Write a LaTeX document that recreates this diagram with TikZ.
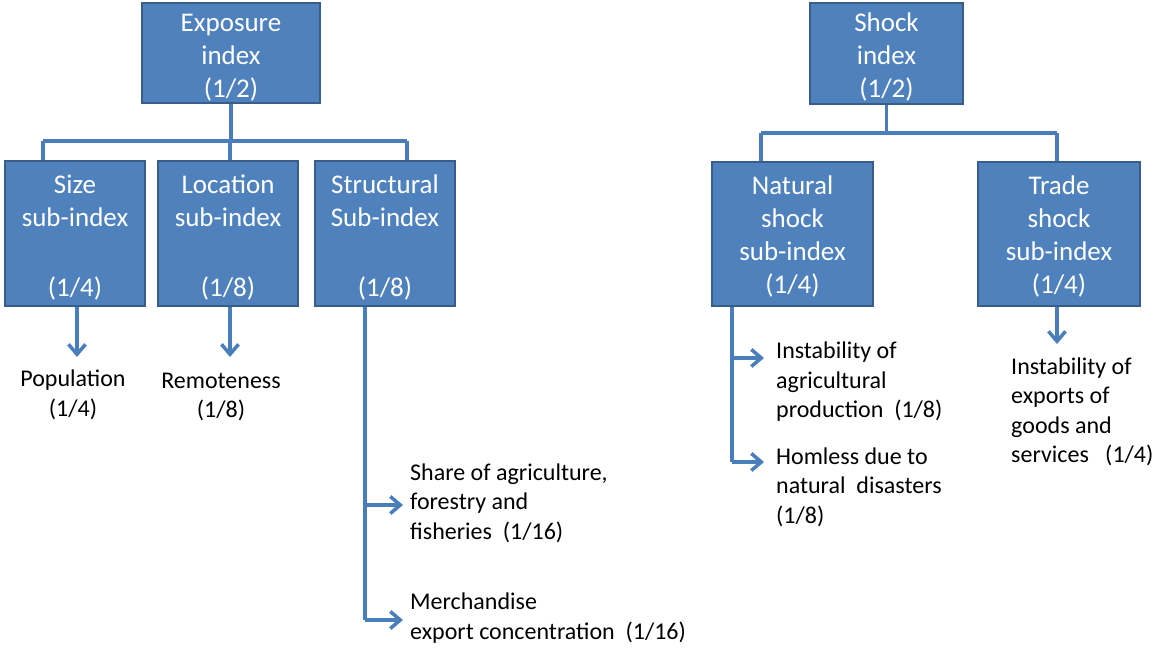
\documentclass[tikz,border=0pt]{standalone}
\usepackage{fontspec}
\setmainfont{Carlito}
\usetikzlibrary{arrows.meta}
\definecolor{boxfill}{HTML}{4F81BD}
\definecolor{boxline}{HTML}{385D8A}
\definecolor{conncol}{HTML}{4A7EBB}
\newcommand{\tstr}[1]{\rule{0pt}{#1pt}}
\tikzset{
  box/.style={draw=boxline, line width=2.5pt, fill=boxfill, text=white, align=center,
    font=\fontsize{27}{33}\selectfont, inner sep=0pt, anchor=center},
  conn/.style={draw=conncol, line width=3.5pt},
  arr/.style={conn, -{Straight Barb[length=10pt,width=17pt,line width=3.5pt]}},
  lbl/.style={font=\fontsize{24}{29.5}\selectfont, inner sep=0pt, text=black},
}
\begin{document}
\begin{tikzpicture}[x=1pt,y=-1pt]
\useasboundingbox (0,0) rectangle (1155,648);
% top boxes
\node[box, minimum width=178pt, minimum height=100pt] (exp) at (231,53) {\tstr{27.5}Exposure\\index\\(1/2)};
\node[box, minimum width=153pt, minimum height=101pt] (shock) at (886.5,53.5) {\tstr{25}Shock\\index\\(1/2)};
% sub boxes
\node[box, minimum width=140pt, minimum height=145pt] (size) at (75,233.5) {\tstr{27}Size\\sub-index\\[37pt](1/4)};
\node[box, minimum width=140pt, minimum height=145pt] (loc) at (228,233.5) {\tstr{27}Location\\sub-index\\[37pt](1/8)};
\node[box, minimum width=140pt, minimum height=145pt] (struct) at (385,233.5) {\tstr{27}Structural\\Sub-index\\[37pt](1/8)};
\node[box, minimum width=161pt, minimum height=144pt] (nat) at (792.5,234) {\tstr{23}Natural\\shock\\sub-index\\(1/4)};
\node[box, minimum width=162pt, minimum height=144pt] (trade) at (1059,234) {\tstr{23}Trade\\shock\\sub-index\\(1/4)};
% bar coordinates
\coordinate (eb1) at (43,141);
\coordinate (eb2) at (230,141);
\coordinate (eb3) at (407,141);
\coordinate (sb1) at (761,133);
\coordinate (sb2) at (1057,133);
\draw[conn] (exp.south) -- (exp.south |- eb1);
\draw[conn] (eb1) -- (eb3);
\draw[conn] (eb1) -- (eb1 |- size.north);
\draw[conn] (eb2) -- (eb2 |- loc.north);
\draw[conn] (eb3) -- (eb3 |- struct.north);
\draw[conn] (shock.south) -- (shock.south |- sb1);
\draw[conn] (sb1) -- (sb2);
\draw[conn] (sb1) -- (sb1 |- nat.north);
\draw[conn] (sb2) -- (sb2 |- trade.north);
% labels
\node[lbl, align=center] (pop) at (73,395) {Population\\(1/4)};
\node[lbl, align=center] (rem) at (221,397) {Remoteness\\(1/8)};
\node[lbl, align=left, anchor=west] (share) at (410,503) {Share of agriculture,\\forestry and\\fisheries\ \ (1/16)};
\node[lbl, align=left, anchor=west] (merch) at (410,618) {Merchandise\\export concentration\ \ (1/16)};
\node[lbl, align=left, anchor=west] (agri) at (776,382) {Instability of\\agricultural\\production\ \ (1/8)};
\node[lbl, align=left, anchor=west] (homl) at (776,487) {Homless due to\\natural\ \ disasters\\(1/8)};
\node[lbl, align=left, anchor=west] (expo) at (1011,412) {Instability of\\exports of\\goods and\\services\ \ \ (1/4)};
% arrows down
\coordinate (a1) at (77,357);
\coordinate (a2) at (230,357);
\coordinate (a3) at (1057,344);
\draw[arr] (a1 |- size.south) -- (a1);
\draw[arr] (a2 |- loc.south) -- (a2);
\draw[arr] (a3 |- trade.south) -- (a3);
% structural branch
\coordinate (st) at (365,620);
\coordinate (st1) at (365,505);
\draw[conn] (st |- struct.south) -- (st);
\draw[arr] (st1) -- ([xshift=-7pt]share.west |- st1);
\draw[arr] (st) -- ([xshift=-7pt]merch.west |- st);
% natural branch
\coordinate (nt) at (732,462);
\coordinate (nt1) at (732,358);
\draw[conn] (nt |- nat.south) -- (nt);
\draw[arr] (nt1) -- ([xshift=-12pt]agri.west |- nt1);
\draw[arr] (nt) -- ([xshift=-12pt]homl.west |- nt);
\end{tikzpicture}
\end{document}
